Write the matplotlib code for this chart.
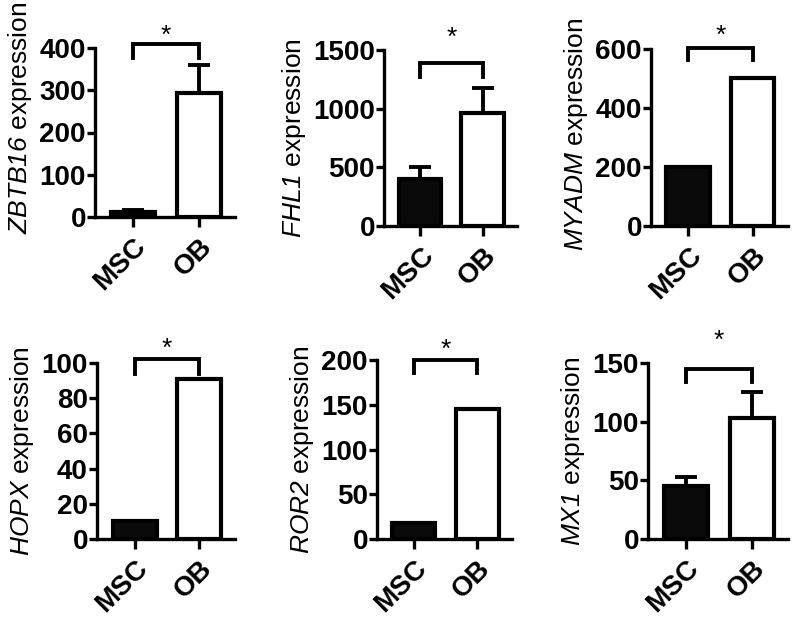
import numpy as np
import matplotlib
matplotlib.use("Agg")
import matplotlib.pyplot as plt
from matplotlib.transforms import offset_copy

plt.rcParams.update({
    "font.family": "Liberation Sans",
    "mathtext.fontset": "custom",
    "mathtext.it": "Liberation Sans:italic",
    "mathtext.rm": "Liberation Sans:italic",
    "axes.linewidth": 2.4,
})

# ---- data ----
genes = ["ZBTB16", "FHL1", "MYADM", "HOPX", "ROR2", "MX1"]
groups = ["MSC", "OB"]
msc_mean = [11, 400, 200, 10, 18, 45]
msc_err = [6, 105, 0, 0, 0, 8]
ob_mean = [293, 960, 500, 91, 145, 103]
ob_err = [66, 215, 0, 0, 0, 22]
y_max = [400, 1500, 600, 100, 200, 150]
y_step = [100, 500, 200, 20, 50, 50]
# significance bracket: top, leg end, star height
br_top = [410, 1392, 603, 102, 200, 145]
br_end = [376, 1273, 564, 94, 185, 134]
star_y = [440, 1642, 660, 111, 217, 173]

# axes boxes in pixels (left, right, top, bottom)
boxes = [(95, 235, 48, 217), (384, 517, 50, 226), (651, 788, 49, 226),
         (97, 235, 363, 539), (377, 512, 360, 539), (648, 788, 363, 539)]
label_y = [0.59, 0.5, 0.52, 0.5, 0.5, 0.5]

W, H = 792, 617
fig = plt.figure(figsize=(W / 100, H / 100), dpi=100)

for i, g in enumerate(genes):
    l, r, t, b = boxes[i]
    ax = fig.add_axes([l / W, 1 - b / H, (r - l) / W, (b - t) / H])
    x = np.arange(2)
    means = [msc_mean[i], ob_mean[i]]
    errs = [msc_err[i], ob_err[i]]
    ax.errorbar(x, means, yerr=[[0, 0], errs], fmt="none", ecolor="k",
                elinewidth=2.8, capsize=8, capthick=2.8, zorder=1)
    ax.bar(x, means, width=0.68, color=["#0a0a0a", "white"],
           edgecolor="k", linewidth=3.0, zorder=2)

    ax.plot([0, 0, 1, 1], [br_end[i], br_top[i], br_top[i], br_end[i]],
            color="k", lw=2.8, clip_on=False, solid_joinstyle="miter")
    star_tr = offset_copy(ax.transData, fig=fig, x=0, y=-5, units="dots")
    ax.text(0.5, star_y[i], "*", ha="center", va="center", fontsize=19,
            clip_on=False, transform=star_tr)

    ax.set_xlim(-0.58, 1.55)
    ax.set_ylim(0, y_max[i])
    ax.set_yticks(np.arange(0, y_max[i] + 1, y_step[i]))
    ax.set_xticks(x)
    ax.set_xticklabels(groups, rotation=45, ha="right", va="top",
                       rotation_mode="anchor", fontweight="bold", fontsize=20)
    for lab in ax.get_yticklabels():
        lab.set_fontweight("bold")
        lab.set_fontsize(20)
    ax.tick_params(axis="y", length=6, width=2.4, pad=0.5)
    ax.tick_params(axis="x", length=7, width=2.4, pad=5)
    ax.spines["top"].set_visible(False)
    ax.spines["right"].set_visible(False)

    ax.set_ylabel("$" + g + "$ expression", fontsize=19, labelpad=4)
    ax.yaxis.label.set_y(label_y[i])

fig.savefig("out.png", dpi=100)
